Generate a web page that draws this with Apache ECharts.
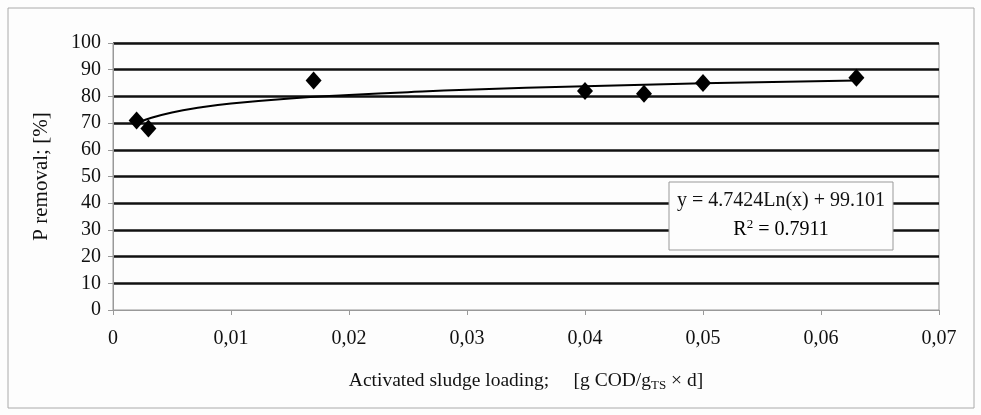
<!DOCTYPE html>
<html>
<head>
<meta charset="utf-8">
<script src="https://cdn.jsdelivr.net/npm/echarts@6/dist/echarts.min.js"></script>
<style>
  html, body { margin: 0; padding: 0; background: #fdfdfd; }
  #chart { width: 981px; height: 415px; }
</style>
</head>
<body>
<div id="chart"></div>
<script>
  // measured points
  var loading = [0.002, 0.003, 0.017, 0.040, 0.045, 0.050, 0.063]
  var removal = [71, 68, 86, 82, 81, 85, 87]

  // log trend line
  var trendX = [0.0025, 0.003, 0.005, 0.0075, 0.01, 0.015, 0.02, 0.025, 0.03, 0.04, 0.05, 0.063]
  var trendY = [70.7, 71.6, 74.0, 75.9, 77.3, 79.2, 80.5, 81.6, 82.5, 83.8, 84.9, 86.0]

  var yTicks = [0, 10, 20, 30, 40, 50, 60, 70, 80, 90, 100]

  var fontFam = '"Liberation Serif", "Times New Roman", serif'
  var ink = '#111'

  var chart = echarts.init(document.getElementById('chart'))

  var points = []
  for (var i = 0; i < loading.length; i++) {
    points.push([loading[i], removal[i]])
  }
  var trend = []
  for (var j = 0; j < trendX.length; j++) {
    trend.push([trendX[j], trendY[j]])
  }

  // no thick line at 0, the axis line sits there
  var gridColors = []
  for (var k = 0; k < yTicks.length; k++) {
    gridColors.push(k === 0 ? 'rgba(0,0,0,0)' : '#111')
  }

  chart.setOption({
    backgroundColor: '#fdfdfd',
    animation: false,
    grid: {
      left: 113,
      right: 42,
      top: 43,
      bottom: 105,
      show: true,
      borderColor: '#999',
      borderWidth: 1,
      backgroundColor: 'transparent'
    },
    xAxis: {
      type: 'value',
      min: 0,
      max: 0.07,
      interval: 0.01,
      name: '{n|Activated sludge loading;     [g COD/g}{s|TS}{n| × d]}',
      nameLocation: 'middle',
      nameGap: 60,
      nameTextStyle: {
        rich: {
          n: {fontFamily: fontFam, fontSize: 19.5, color: ink},
          s: {fontFamily: fontFam, fontSize: 13, color: ink, padding: [9, 0, 0, 0]}
        }
      },
      axisLine: {lineStyle: {color: '#999', width: 1}},
      axisTick: {show: true, length: 5, inside: false, lineStyle: {color: '#999'}},
      axisLabel: {
        fontFamily: fontFam,
        fontSize: 20,
        color: ink,
        margin: 19,
        formatter: function (v) {
          if (v === 0) return '0'
          return v.toFixed(2).replace('.', ',')
        }
      },
      splitLine: {show: false}
    },
    yAxis: {
      type: 'value',
      min: yTicks[0],
      max: yTicks[yTicks.length - 1],
      interval: 10,
      name: 'P removal; [%]',
      nameLocation: 'middle',
      nameGap: 61,
      nameTextStyle: {fontFamily: fontFam, fontSize: 21, color: ink},
      axisLine: {show: true, lineStyle: {color: '#999', width: 1}},
      axisTick: {show: true, length: 5, lineStyle: {color: '#999'}},
      axisLabel: {fontFamily: fontFam, fontSize: 20, color: ink, margin: 12},
      splitLine: {show: true, lineStyle: {color: gridColors, width: 2.5}}
    },
    series: [
      {
        type: 'line',
        data: trend,
        smooth: true,
        showSymbol: false,
        lineStyle: {color: '#000', width: 2},
        z: 3
      },
      {
        type: 'scatter',
        data: points,
        symbol: 'diamond',
        symbolSize: [16, 18],
        itemStyle: {color: '#000', opacity: 1},
        z: 4
      }
    ],
    graphic: [
      {
        type: 'rect',
        x: 8,
        y: 8,
        shape: {width: 966, height: 400},
        style: {fill: 'none', stroke: '#aaa', lineWidth: 1},
        silent: true
      },
      {
        type: 'rect',
        x: 669,
        y: 182,
        z: 10,
        shape: {width: 224, height: 68},
        style: {fill: '#fdfdfd', stroke: '#999', lineWidth: 1}
      },
      {
        type: 'text',
        x: 781,
        y: 191,
        z: 11,
        style: {
          text: 'y = 4.7424Ln(x) + 99.101',
          font: '20px ' + fontFam,
          fill: ink,
          textAlign: 'center'
        }
      },
      {
        type: 'text',
        x: 781,
        y: 218,
        z: 11,
        style: {
          text: '{a|R}{b|2}{a| = 0.7911}',
          textAlign: 'center',
          rich: {
            a: {fontFamily: fontFam, fontSize: 20, color: ink},
            b: {fontFamily: fontFam, fontSize: 13, color: ink, padding: [0, 0, 10, 0]}
          }
        }
      }
    ]
  })
</script>
</body>
</html>
